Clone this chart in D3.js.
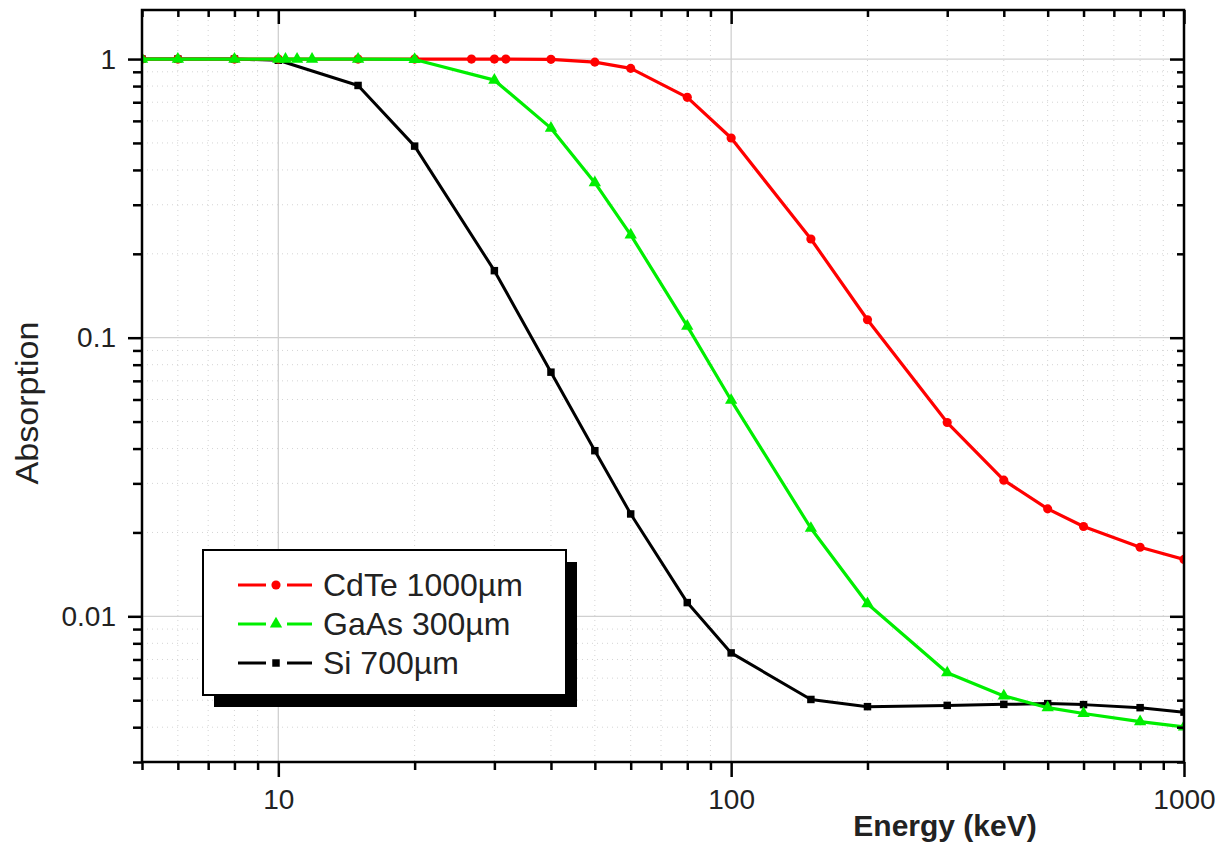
<!DOCTYPE html>
<html>
<head>
<meta charset="utf-8">
<script src="https://cdn.jsdelivr.net/npm/d3@7"></script>
<style>
  body { margin: 0; background: #fff; }
  text { font-family: "Liberation Sans", Arial, sans-serif; }
</style>
</head>
<body>
<svg width="1221" height="844"></svg>
<script>
// energies (keV) and absorption for each detector
var cdteEnergy = [5, 6, 8, 10, 15, 20, 26.7, 30, 31.8, 40, 50, 60, 80, 100, 150, 200, 300, 400, 500, 600, 800, 1000];
var cdteAbs = [1, 1, 1, 1, 1, 1, 1, 1, 1, 0.998, 0.975, 0.926, 0.729, 0.521, 0.226, 0.116, 0.0496, 0.0308, 0.0243, 0.0210, 0.0177, 0.0160];

var gaasEnergy = [5, 6, 8, 10, 10.37, 11, 11.87, 15, 20, 30, 40, 50, 60, 80, 100, 150, 200, 300, 400, 500, 600, 800, 1000];
var gaasAbs = [1, 1, 1, 1, 1, 1, 1, 1, 0.997, 0.840, 0.565, 0.360, 0.234, 0.110, 0.0596, 0.0207, 0.0111, 0.00627, 0.00518, 0.00470, 0.00448, 0.00419, 0.00401];

var siEnergy = [5, 6, 8, 10, 15, 20, 30, 40, 50, 60, 80, 100, 150, 200, 300, 400, 500, 600, 800, 1000];
var siAbs = [1, 1, 1, 0.99, 0.804, 0.487, 0.174, 0.0752, 0.0393, 0.0233, 0.0112, 0.00739, 0.00503, 0.00474, 0.00479, 0.00483, 0.00486, 0.00482, 0.00470, 0.00453];

var seriesNames = ["CdTe 1000\u00b5m", "GaAs 300\u00b5m", "Si 700\u00b5m"];

var xMajor = [10, 100, 1000];
var xMinor = [5, 6, 7, 8, 9, 20, 30, 40, 50, 60, 70, 80, 90, 200, 300, 400, 500, 600, 700, 800, 900];
var yMajor = [0.01, 0.1, 1];
var yMinor = [0.003, 0.004, 0.005, 0.006, 0.007, 0.008, 0.009, 0.02, 0.03, 0.04, 0.05, 0.06, 0.07, 0.08, 0.09,
              0.2, 0.3, 0.4, 0.5, 0.6, 0.7, 0.8, 0.9];

var svg = d3.select("svg");
var pLeft = 142, pRight = 1184, pTop = 10, pBottom = 762;

var x = d3.scaleLog().domain([5, 1000]).range([pLeft, pRight]);
var y = d3.scaleLog().domain([0.003, 1.5]).range([pBottom, pTop]);

// grid
var grid = svg.append("g");
grid.selectAll(".gxm").data(xMinor).enter().append("line")
    .attr("x1", d => x(d)).attr("x2", d => x(d)).attr("y1", pTop).attr("y2", pBottom)
    .attr("stroke", "#d4d4d4").attr("stroke-width", 1).attr("stroke-dasharray", "1,4");
grid.selectAll(".gym").data(yMinor).enter().append("line")
    .attr("y1", d => y(d)).attr("y2", d => y(d)).attr("x1", pLeft).attr("x2", pRight)
    .attr("stroke", "#d4d4d4").attr("stroke-width", 1).attr("stroke-dasharray", "1,4");
grid.selectAll(".gxM").data(xMajor).enter().append("line")
    .attr("x1", d => x(d)).attr("x2", d => x(d)).attr("y1", pTop).attr("y2", pBottom)
    .attr("stroke", "#d0d0d0").attr("stroke-width", 1.3);
grid.selectAll(".gyM").data(yMajor).enter().append("line")
    .attr("y1", d => y(d)).attr("y2", d => y(d)).attr("x1", pLeft).attr("x2", pRight)
    .attr("stroke", "#d0d0d0").attr("stroke-width", 1.3);

// data
svg.append("clipPath").attr("id", "plot")
  .append("rect").attr("x", pLeft).attr("y", pTop).attr("width", pRight - pLeft).attr("height", pBottom - pTop);

var series = [
  {name: seriesNames[2], e: siEnergy, a: siAbs, color: "#000000", shape: d3.symbolSquare, size: 56, w: 3},
  {name: seriesNames[0], e: cdteEnergy, a: cdteAbs, color: "#ff0000", shape: d3.symbolCircle, size: 66, w: 3.2},
  {name: seriesNames[1], e: gaasEnergy, a: gaasAbs, color: "#00ee00", shape: d3.symbolTriangle, size: 66, w: 3.2}
];

var line = d3.line().x(d => x(d[0])).y(d => y(d[1]));
var plot = svg.append("g").attr("clip-path", "url(#plot)");

series.forEach(function(s) {
  var pts = s.e.map((d, i) => [d, s.a[i]]);
  plot.append("path").datum(pts)
      .attr("d", line).attr("fill", "none")
      .attr("stroke", s.color).attr("stroke-width", s.w).attr("stroke-linejoin", "round");
  plot.selectAll(null).data(pts).enter().append("path")
      .attr("d", d3.symbol().type(s.shape).size(s.size))
      .attr("transform", d => "translate(" + x(d[0]) + "," + y(d[1]) + ")")
      .attr("fill", s.color);
});

// axes
function styleAxis(g) {
  g.select(".domain").remove();
  g.selectAll("line").attr("stroke", "#000").attr("stroke-width", 2.5);
  g.selectAll("text").attr("font-size", 28).attr("fill", "#222");
}

svg.append("g").attr("transform", "translate(0," + pBottom + ")")
    .call(d3.axisBottom(x).tickValues(xMajor).tickSize(15).tickPadding(12).tickFormat(d3.format("d"))).call(styleAxis);
svg.append("g").attr("transform", "translate(0," + pBottom + ")")
    .call(d3.axisBottom(x).tickValues(xMinor).tickSize(8).tickFormat("")).call(styleAxis);
svg.append("g").attr("transform", "translate(0," + pTop + ")")
    .call(d3.axisTop(x).tickValues(xMajor).tickSize(-14).tickFormat("")).call(styleAxis);
svg.append("g").attr("transform", "translate(0," + pTop + ")")
    .call(d3.axisTop(x).tickValues(xMinor).tickSize(-7).tickFormat("")).call(styleAxis);

svg.append("g").attr("transform", "translate(" + pLeft + ",0)")
    .call(d3.axisLeft(y).tickValues(yMajor).tickSize(14).tickPadding(12).tickFormat(d => d + "")).call(styleAxis);
svg.append("g").attr("transform", "translate(" + pLeft + ",0)")
    .call(d3.axisLeft(y).tickValues(yMinor).tickSize(9).tickFormat("")).call(styleAxis);
svg.append("g").attr("transform", "translate(" + pRight + ",0)")
    .call(d3.axisRight(y).tickValues(yMajor).tickSize(-14).tickFormat("")).call(styleAxis);
svg.append("g").attr("transform", "translate(" + pRight + ",0)")
    .call(d3.axisRight(y).tickValues(yMinor).tickSize(-7).tickFormat("")).call(styleAxis);

svg.append("rect").attr("x", pLeft).attr("y", pTop).attr("width", pRight - pLeft).attr("height", pBottom - pTop)
    .attr("fill", "none").attr("stroke", "#000").attr("stroke-width", 2.5);

// titles
svg.append("text").attr("x", 945).attr("y", 836).attr("text-anchor", "middle")
    .attr("font-size", 30).attr("font-weight", "bold").attr("fill", "#222")
    .text("Energy (keV)");
svg.append("text").attr("transform", "translate(38,403) rotate(-90)").attr("text-anchor", "middle")
    .attr("font-size", 31).attr("fill", "#222")
    .attr("textLength", 163).attr("lengthAdjust", "spacingAndGlyphs")
    .text("Absorption");

// legend
var lg = svg.append("g");
lg.append("rect").attr("x", 214).attr("y", 562).attr("width", 363).attr("height", 145).attr("fill", "#000");
lg.append("rect").attr("x", 203).attr("y", 550).attr("width", 363).attr("height", 145)
    .attr("fill", "#fff").attr("stroke", "#000").attr("stroke-width", 2);

var order = [series[1], series[2], series[0]];
order.forEach(function(s, i) {
  var yy = 585 + i * 39;
  lg.append("line").attr("x1", 238).attr("x2", 266).attr("y1", yy).attr("y2", yy)
      .attr("stroke", s.color).attr("stroke-width", 3);
  lg.append("line").attr("x1", 287).attr("x2", 312).attr("y1", yy).attr("y2", yy)
      .attr("stroke", s.color).attr("stroke-width", 3);
  lg.append("path").attr("d", d3.symbol().type(s.shape).size(s.size))
      .attr("transform", "translate(276," + yy + ")").attr("fill", s.color);
  lg.append("text").attr("x", 323).attr("y", yy + 11).attr("font-size", 32).attr("fill", "#222").text(s.name);
});
</script>
</body>
</html>
